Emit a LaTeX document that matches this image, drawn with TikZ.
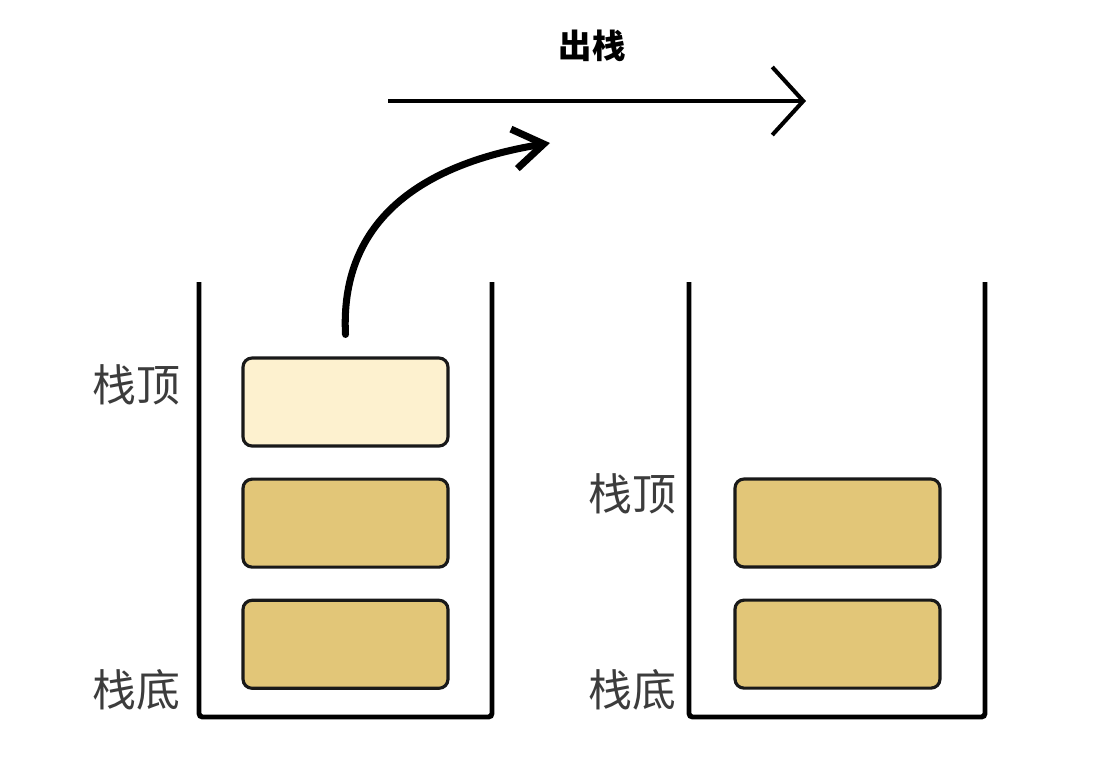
\documentclass[tikz,border=0pt]{standalone}
\usepackage{fontspec}
\newfontfamily\cjk{Noto Sans CJK SC}
\usetikzlibrary{arrows.meta,positioning}
\definecolor{stackgold}{RGB}{226,198,120}
\definecolor{stacklight}{RGB}{253,241,207}
\definecolor{labelgray}{RGB}{60,60,60}

\begin{document}
\begin{tikzpicture}[x=0.02cm, y=-0.02cm,
    item/.style={draw=black!90, fill=stackgold, rounded corners=0.18cm, line width=1.8pt, minimum width=4.1cm, minimum height=1.76cm, inner sep=0pt},
    popped/.style={item, fill=stacklight},
    wall/.style={line width=2.8pt, rounded corners=2pt},
    tag/.style={font=\cjk\fontsize{25}{30}\selectfont, text=labelgray, inner sep=0pt},
    title/.style={font=\cjk\bfseries\fontsize{19}{23}\selectfont, inner sep=0pt}
]
\useasboundingbox (0,0) rectangle (1107,765);
% before: three items
\draw[wall] (199,282) -- (199,717) -- (492,717) -- (492,282);
\node[popped] (top) at (345.5,402) {};
\node[item, below=0.6cm of top] (mid) {};
\node[item, below=0.6cm of mid] (bottom) {};
\node[tag] (ltop) at (136,385) {栈顶};
\node[tag] (lbottom) at (136,690) {栈底};
% after: two items
\draw[wall] (689,282) -- (689,717) -- (985,717) -- (985,282);
\node[item] (rtopitem) at (837.5,523) {};
\node[item, below=0.6cm of rtopitem] (rbottomitem) {};
\node[tag] (rtop) at (632,494) {栈顶};
\node[tag] (rbottom) at (632,690) {栈底};
% pop arrows
\node[title] (pop) at (592,46) {出栈};
\coordinate (popfrom) at (388,101);
\coordinate (popto) at (806,101);
\draw[line width=2.3pt, -{Straight Barb[length=0.62cm, width=1.36cm]}] (popfrom) -- (popto);
\coordinate[above=0.44cm of top] (lift);
\coordinate (landing) at (550,143);
\draw[line width=4pt, line cap=round, -{Straight Barb[length=0.6cm, width=0.8cm]}] (lift) .. controls (340,225) and (415,165) .. (landing);
\end{tikzpicture}
\end{document}
